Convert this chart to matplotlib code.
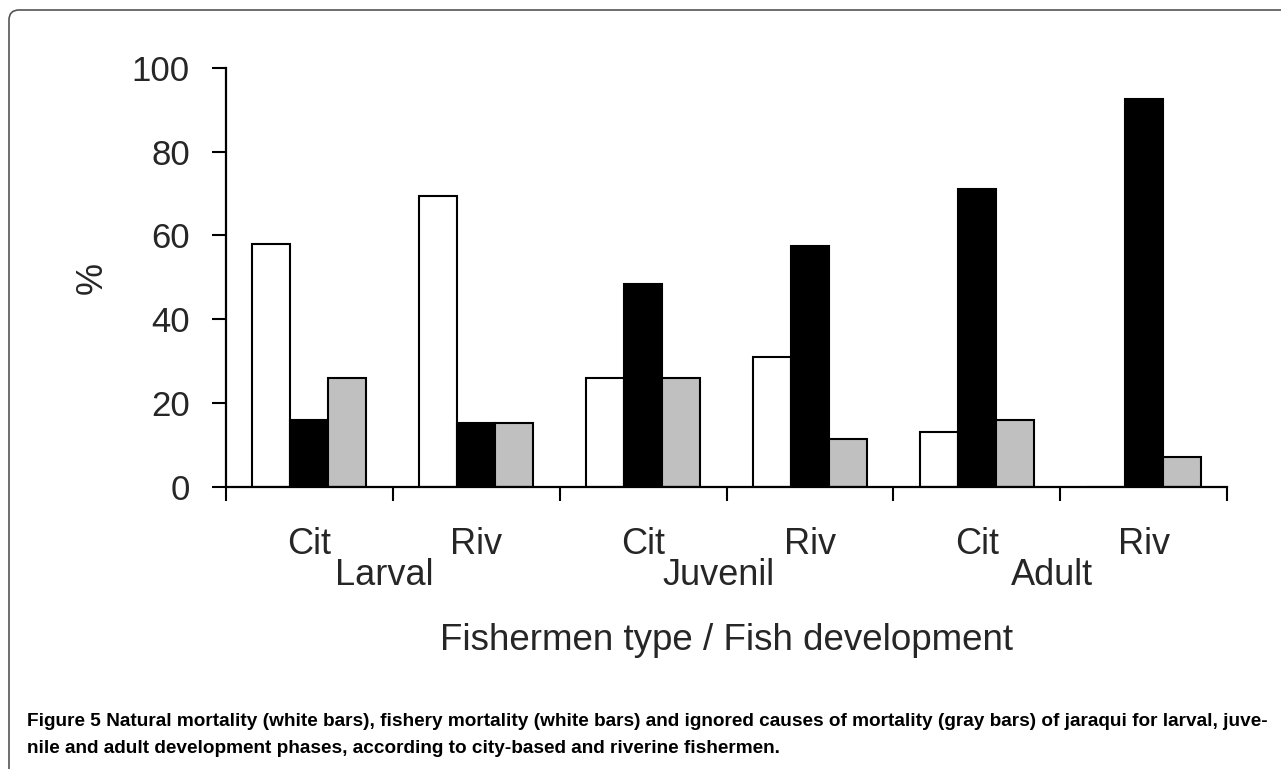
import matplotlib
matplotlib.use("Agg")
from matplotlib import pyplot as plt
from matplotlib import patches, transforms
import numpy as np

# Data (percent)
fishermen = ["Cit", "Riv", "Cit", "Riv", "Cit", "Riv"]
phases = ["Larval", "Juvenil", "Adult"]
natural = [58, 69.5, 26, 31, 13, 0]
fishery = [16, 15.3, 48.3, 57.5, 71, 92.5]
ignored = [26, 15.3, 26, 11.5, 16, 7]
yticks = [0, 20, 40, 60, 80, 100]

caption_bold = "Figure 5"
caption_1 = (" Natural mortality (white bars), fishery mortality (white bars) and ignored "
             "causes of mortality (gray bars) of jaraqui for larval, juve-")
caption_2 = "nile and adult development phases, according to city-based and riverine fishermen."

plt.rcParams['font.family'] = ['Liberation Sans', 'DejaVu Sans']

fig = plt.figure(figsize=(12.81, 7.69), dpi=100)
ax = fig.add_axes([226/1281, 1-486.7/769, (1227-226)/1281, (486.7-68)/769])

x = np.arange(len(fishermen)) + 0.5
w = 0.228
ax.bar(x - w, natural, w, color="white", edgecolor="black", linewidth=1.5)
ax.bar(x, fishery, w, color="black", edgecolor="black", linewidth=1.5)
ax.bar(x + w, ignored, w, color="#c0c0c0", edgecolor="black", linewidth=1.5)

ax.set_xlim(0, 6)
ax.set_ylim(0, 100)
for s in ["top", "right"]:
    ax.spines[s].set_visible(False)
for s in ["left", "bottom"]:
    ax.spines[s].set_linewidth(1.6)

ax.set_yticks(yticks)
ax.tick_params(axis="y", direction="out", length=10, width=1.5, pad=16,
               labelsize=25, labelcolor="#262626")
ax.set_xticks(np.arange(7))
ax.set_xticklabels([])
ax.tick_params(axis="x", which="major", direction="out", length=10, width=1.5)
ax.set_xticks(x, minor=True)
ax.set_xticklabels(fishermen, minor=True)
ax.tick_params(axis="x", which="minor", length=0, pad=29, labelsize=26,
               labelcolor="#262626")

# development phase labels, between the Cit / Riv pairs
for i, p in enumerate(phases):
    ax.annotate(p, xy=(2*i + 0.95, 0), xycoords=("data", "axes fraction"),
                xytext=(0, -98), textcoords="offset pixels",
                ha="center", va="baseline", fontsize=26, color="#262626")

fig.text(726/1281, 1-650/769, "Fishermen type / Fish development", ha="center",
         va="baseline", fontsize=26.5, color="#262626")
fig.text(92/1281, 1-278/769, "%", rotation=90, ha="center", va="center",
         fontsize=26, color="#262626")

# caption
cap_font = ['Liberation Sans Narrow', 'Liberation Sans', 'DejaVu Sans']
t = fig.text(27/1281, 1-726/769, caption_bold, ha="left", va="baseline",
             fontsize=13.7, fontweight="bold", family=cap_font)
fig.canvas.draw()
bb = t.get_window_extent()
fig.text(bb.x1/1281, 1-726/769, caption_1, ha="left", va="baseline",
         fontsize=13.7, fontweight="bold", family=cap_font)
fig.text(27/1281, 1-753/769, caption_2, ha="left", va="baseline",
         fontsize=13.7, fontweight="bold", family=cap_font)

# rounded frame around the figure
frame = patches.FancyBboxPatch((9, -20), 1320, 769 - 10 + 20,
                               boxstyle="round,pad=0,rounding_size=10",
                               facecolor="none", edgecolor="#555555", linewidth=1.2,
                               transform=transforms.IdentityTransform())
fig.add_artist(frame)

fig.savefig("out.png", dpi=100)
